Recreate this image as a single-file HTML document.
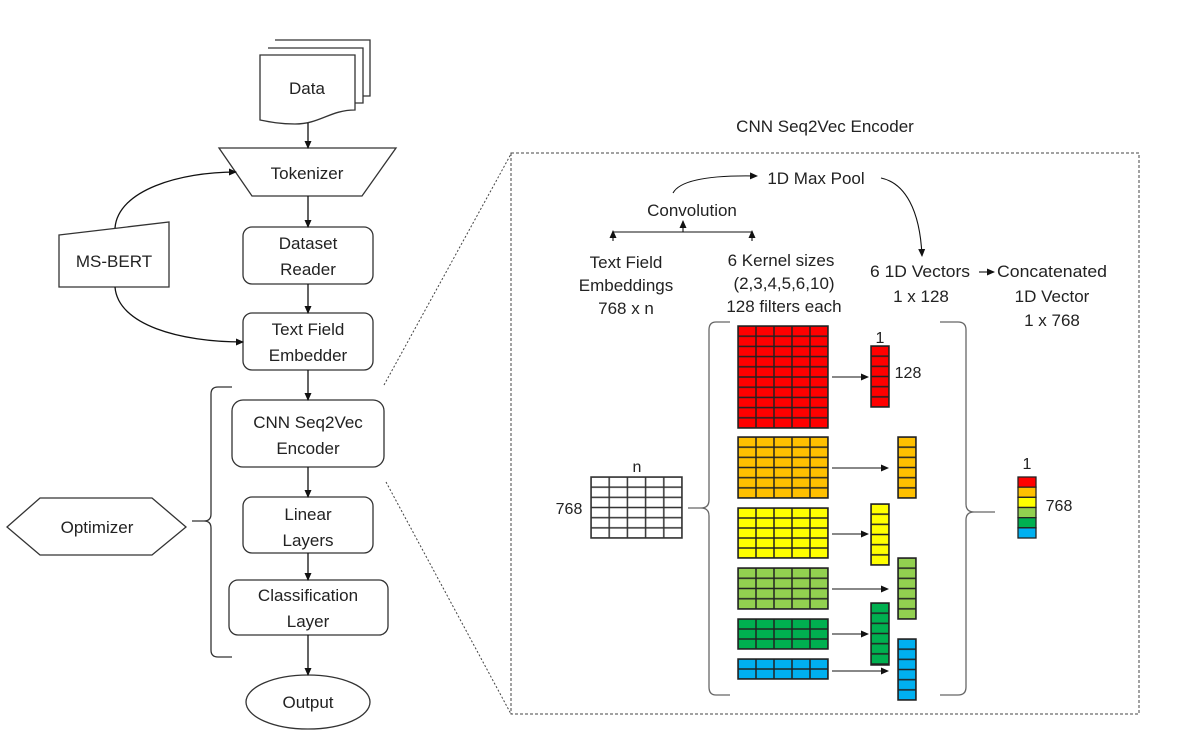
<!DOCTYPE html>
<html><head><meta charset="utf-8"><style>
body{margin:0;background:#fff}
svg{display:block}
text{font-family:"Liberation Sans",sans-serif;font-size:17px;fill:#222}
</style></head><body>
<svg width="1177" height="756" viewBox="0 0 1177 756" xmlns="http://www.w3.org/2000/svg">
<defs>
<marker id="a" markerWidth="8" markerHeight="8" refX="7" refY="4" orient="auto" markerUnits="userSpaceOnUse"><path d="M0,0.5 L8,4 L0,7.5z" fill="#111"/></marker>
<pattern id="pin" x="591" y="477" width="18.2" height="10.17" patternUnits="userSpaceOnUse"><rect width="18.2" height="10.17" fill="#fff" stroke="#333" stroke-width="1.5"/></pattern>
<pattern id="pr" x="738" y="326" width="18" height="10.2" patternUnits="userSpaceOnUse"><rect width="18" height="10.2" fill="#ff0000" stroke="#222" stroke-width="1.5"/></pattern>
<pattern id="po" x="738" y="437" width="18" height="10.17" patternUnits="userSpaceOnUse"><rect width="18" height="10.17" fill="#ffc000" stroke="#222" stroke-width="1.5"/></pattern>
<pattern id="py" x="738" y="508" width="18" height="10" patternUnits="userSpaceOnUse"><rect width="18" height="10" fill="#ffff00" stroke="#222" stroke-width="1.5"/></pattern>
<pattern id="plg" x="738" y="568" width="18" height="10.25" patternUnits="userSpaceOnUse"><rect width="18" height="10.25" fill="#92d050" stroke="#222" stroke-width="1.5"/></pattern>
<pattern id="pdg" x="738" y="619" width="18" height="10" patternUnits="userSpaceOnUse"><rect width="18" height="10" fill="#00b050" stroke="#222" stroke-width="1.5"/></pattern>
<pattern id="pb" x="738" y="659" width="18" height="10" patternUnits="userSpaceOnUse"><rect width="18" height="10" fill="#00b0f0" stroke="#222" stroke-width="1.5"/></pattern>
<pattern id="vr" x="871" y="346" width="18" height="10.17" patternUnits="userSpaceOnUse"><rect width="18" height="10.17" fill="#ff0000" stroke="#222" stroke-width="1.5"/></pattern>
<pattern id="vo" x="898" y="437" width="18" height="10.17" patternUnits="userSpaceOnUse"><rect width="18" height="10.17" fill="#ffc000" stroke="#222" stroke-width="1.5"/></pattern>
<pattern id="vy" x="871" y="504" width="18" height="10.17" patternUnits="userSpaceOnUse"><rect width="18" height="10.17" fill="#ffff00" stroke="#222" stroke-width="1.5"/></pattern>
<pattern id="vlg" x="898" y="558" width="18" height="10.17" patternUnits="userSpaceOnUse"><rect width="18" height="10.17" fill="#92d050" stroke="#222" stroke-width="1.5"/></pattern>
<pattern id="vdg" x="871" y="603" width="18" height="10.17" patternUnits="userSpaceOnUse"><rect width="18" height="10.17" fill="#00b050" stroke="#222" stroke-width="1.5"/></pattern>
<pattern id="vb" x="898" y="639" width="18" height="10.17" patternUnits="userSpaceOnUse"><rect width="18" height="10.17" fill="#00b0f0" stroke="#222" stroke-width="1.5"/></pattern>
</defs>

<g fill="none" stroke="#333" stroke-width="1.3">
<path d="M275,40 H370 V96 H363" fill="#fff"/>
<path d="M268,48 H363 V103 H355" fill="#fff"/>
<path d="M260,55 H355 V110 C330,110 320,124 295,124 C280,124 270,122 260,120 Z" fill="#fff"/>
<path d="M219,148 H396 L362,196 H252 Z" fill="#fff"/>
<rect x="243" y="227" width="130" height="57" rx="9" fill="#fff"/>
<rect x="243" y="313" width="130" height="57" rx="9" fill="#fff"/>
<rect x="232" y="400" width="152" height="67" rx="11" fill="#fff"/>
<rect x="243" y="497" width="130" height="56" rx="9" fill="#fff"/>
<rect x="229" y="580" width="159" height="55" rx="9" fill="#fff"/>
<ellipse cx="308" cy="702" rx="62" ry="27" fill="#fff"/>
<path d="M59,235 L169,222 V287 H59 Z" fill="#fff"/>
<path d="M7,527 L40,498 H152 L186,527 L152,555 H40 Z" fill="#fff"/>
<path d="M232,387 H218 Q211,387 211,394 V514 Q211,521 204,521 H192 M204,521 Q211,521 211,528 V650 Q211,657 218,657 H232"/>
</g>
<g stroke="#111" stroke-width="1.3" fill="none" marker-end="url(#a)">
<line x1="308" y1="123" x2="308" y2="148"/>
<line x1="308" y1="196" x2="308" y2="227"/>
<line x1="308" y1="284" x2="308" y2="313"/>
<line x1="308" y1="370" x2="308" y2="400"/>
<line x1="308" y1="467" x2="308" y2="497"/>
<line x1="308" y1="553" x2="308" y2="580"/>
<line x1="308" y1="635" x2="308" y2="675"/>
<path d="M115,228 C118,190 180,172 236,172"/>
<path d="M115,287 C118,325 180,342 243,342"/>
</g>
<text x="307" y="94" text-anchor="middle">Data</text>
<text x="307" y="179" text-anchor="middle">Tokenizer</text>
<text x="308" y="249" text-anchor="middle">Dataset</text>
<text x="308" y="275" text-anchor="middle">Reader</text>
<text x="308" y="335" text-anchor="middle">Text Field</text>
<text x="308" y="361" text-anchor="middle">Embedder</text>
<text x="308" y="428" text-anchor="middle">CNN Seq2Vec</text>
<text x="308" y="454" text-anchor="middle">Encoder</text>
<text x="308" y="520" text-anchor="middle">Linear</text>
<text x="308" y="546" text-anchor="middle">Layers</text>
<text x="308" y="601" text-anchor="middle">Classification</text>
<text x="308" y="627" text-anchor="middle">Layer</text>
<text x="308" y="708" text-anchor="middle">Output</text>
<text x="114" y="267" text-anchor="middle">MS-BERT</text>
<text x="97" y="533" text-anchor="middle">Optimizer</text>

<rect x="511" y="153" width="628" height="561" fill="none" stroke="#444" stroke-width="1" stroke-dasharray="3,2"/>
<line x1="384" y1="385" x2="511" y2="154" stroke="#444" stroke-width="1" stroke-dasharray="2,2"/>
<line x1="386" y1="482" x2="511" y2="714" stroke="#444" stroke-width="1" stroke-dasharray="2,2"/>
<text x="825" y="132" text-anchor="middle">CNN Seq2Vec Encoder</text>

<g style="font-size:15px" text-anchor="middle">
<text x="816" y="184">1D Max Pool</text>
<text x="692" y="216">Convolution</text>
</g>
<g stroke="#111" stroke-width="1.1" fill="none">
<path d="M673,193 C680,180 710,175 757,176" marker-end="url(#a)"/>
<path d="M881,178 C905,183 920,210 922,256" marker-end="url(#a)"/>
<line x1="613" y1="232" x2="752" y2="232"/>
<line x1="613" y1="241" x2="613" y2="231" marker-end="url(#a)"/>
<line x1="752" y1="241" x2="752" y2="231" marker-end="url(#a)"/>
<line x1="683" y1="232" x2="683" y2="221" marker-end="url(#a)"/>
<line x1="979" y1="272" x2="994" y2="272" marker-end="url(#a)"/>
</g>
<g style="font-size:15px" text-anchor="middle">
<text x="626" y="268">Text Field</text>
<text x="626" y="291">Embeddings</text>
<text x="626" y="314">768 x n</text>
<text x="781" y="266">6 Kernel sizes</text>
<text x="784" y="289">(2,3,4,5,6,10)</text>
<text x="784" y="312">128 filters each</text>
<text x="920" y="277" textLength="100" lengthAdjust="spacingAndGlyphs">6 1D Vectors</text>
<text x="921" y="302">1 x 128</text>
<text x="1052" y="277" textLength="110" lengthAdjust="spacingAndGlyphs">Concatenated</text>
<text x="1052" y="302">1D Vector</text>
<text x="1052" y="326">1 x 768</text>
</g>

<rect x="591" y="477" width="91" height="61" fill="url(#pin)" stroke="#333" stroke-width="1.5"/>
<text x="637" y="472" text-anchor="middle" style="font-size:16px">n</text>
<text x="569" y="514" text-anchor="middle" style="font-size:16px">768</text>

<g fill="none" stroke="#666" stroke-width="1.3">
<path d="M730,322 H716 Q709,322 709,330 V500 Q709,508 701,508 H688 M701,508 Q709,508 709,516 V687 Q709,695 716,695 H730"/>
<path d="M940,322 H958 Q966,322 966,330 V504 Q966,512 974,512 H995 M974,512 Q966,512 966,520 V687 Q966,695 958,695 H940"/>
</g>

<g stroke="#222" stroke-width="1.5">
<rect x="738" y="326" width="90" height="102" fill="url(#pr)"/>
<rect x="738" y="437" width="90" height="61" fill="url(#po)"/>
<rect x="738" y="508" width="90" height="50" fill="url(#py)"/>
<rect x="738" y="568" width="90" height="41" fill="url(#plg)"/>
<rect x="738" y="619" width="90" height="30" fill="url(#pdg)"/>
<rect x="738" y="659" width="90" height="20" fill="url(#pb)"/>
<rect x="871" y="346" width="18" height="61" fill="url(#vr)"/>
<rect x="898" y="437" width="18" height="61" fill="url(#vo)"/>
<rect x="871" y="504" width="18" height="61" fill="url(#vy)"/>
<rect x="898" y="558" width="18" height="61" fill="url(#vlg)"/>
<rect x="871" y="603" width="18" height="62" fill="url(#vdg)"/>
<rect x="898" y="639" width="18" height="61" fill="url(#vb)"/>
</g>
<g stroke="#111" stroke-width="1.1" marker-end="url(#a)">
<line x1="832" y1="377" x2="868" y2="377"/>
<line x1="832" y1="468" x2="888" y2="468"/>
<line x1="832" y1="534" x2="868" y2="534"/>
<line x1="832" y1="589" x2="888" y2="589"/>
<line x1="832" y1="634" x2="868" y2="634"/>
<line x1="832" y1="671" x2="888" y2="671"/>
</g>
<text x="880" y="343" text-anchor="middle" style="font-size:16px">1</text>
<text x="908" y="378" text-anchor="middle" style="font-size:16px">128</text>

<g stroke="#222" stroke-width="1.3">
<rect x="1018" y="477" width="18" height="10.17" fill="#ff0000"/>
<rect x="1018" y="487.17" width="18" height="10.17" fill="#ffc000"/>
<rect x="1018" y="497.33" width="18" height="10.17" fill="#ffff00"/>
<rect x="1018" y="507.5" width="18" height="10.17" fill="#92d050"/>
<rect x="1018" y="517.67" width="18" height="10.17" fill="#00b050"/>
<rect x="1018" y="527.83" width="18" height="10.17" fill="#00b0f0"/>
</g>
<text x="1027" y="469" text-anchor="middle" style="font-size:16px">1</text>
<text x="1059" y="511" text-anchor="middle" style="font-size:16px">768</text>
</svg>
</body></html>
